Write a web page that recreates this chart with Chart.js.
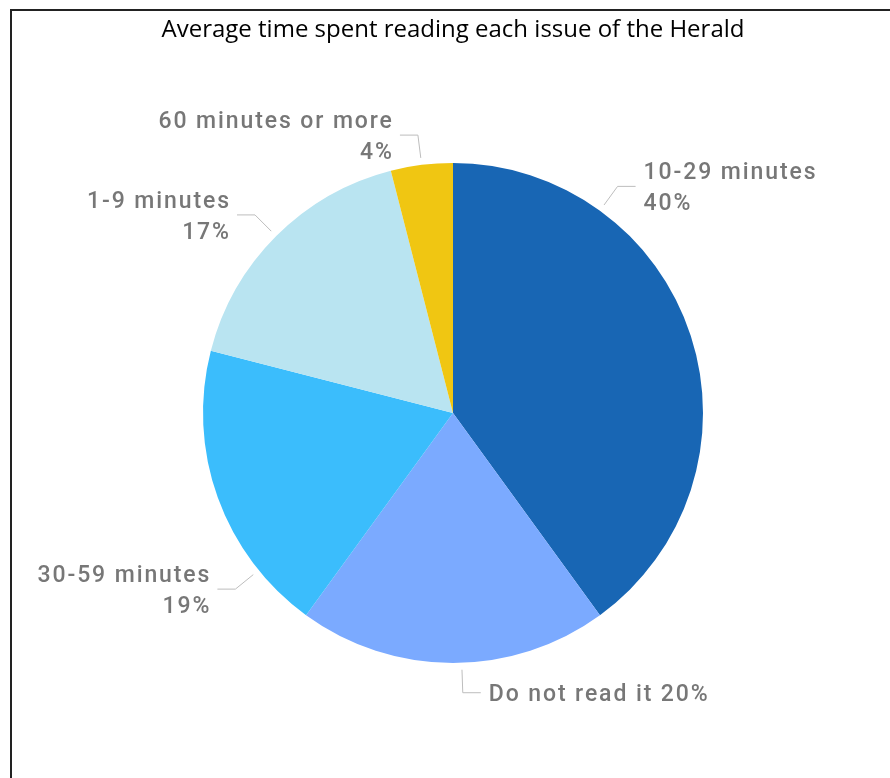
<!DOCTYPE html>
<html>
<head>
<meta charset="utf-8">
<script src="https://cdn.jsdelivr.net/npm/chart.js@4.4.1/dist/chart.umd.min.js"></script>
<style>
    html, body { margin: 0; padding: 0; background: #fff; overflow: hidden; }
    #frame {
        position: absolute; left: 10px; top: 9px;
        width: 882px; height: 767px;
        border-left: 2px solid #222; border-top: 2px solid #222;
    }
    #chart { display: block; }
</style>
</head>
<body>
<div id="frame"><canvas id="chart" width="882" height="767"></canvas></div>
<script>
// ──────────────────────────────────────────────
// Данные
// ──────────────────────────────────────────────
const categories = ['10-29 minutes', 'Do not read it', '30-59 minutes', '1-9 minutes', '60 minutes or more'];
const shares     = [40, 20, 19, 17, 4];
const colors     = ['#1866b4', '#7baaff', '#3bbdfc', '#b9e4f1', '#f0c612'];

// ──────────────────────────────────────────────
// Подписи с выносками
// ──────────────────────────────────────────────
const pieLabels = {
    id: 'pieLabels',
    afterDatasetsDraw(chart, args, opts) {
        const ctx  = chart.ctx;
        const meta = chart.getDatasetMeta(0);
        const vals = chart.data.datasets[0].data;

        ctx.save();
        ctx.font = opts.font;
        ctx.letterSpacing = opts.letterSpacing;
        ctx.fillStyle = opts.color;
        ctx.strokeStyle = opts.lineColor;
        ctx.lineWidth = 1;
        ctx.textBaseline = 'middle';

        meta.data.forEach((arc, i) => {
            const p = arc.getProps(['x', 'y', 'outerRadius', 'startAngle', 'endAngle'], true);
            const deg = opts.angles[i];
            const a = deg != null ? (deg - 90) * Math.PI / 180 : (p.startAngle + p.endAngle) / 2;
            const cos = Math.cos(a), sin = Math.sin(a);

            const x0 = p.x + cos * (p.outerRadius + 7),  y0 = p.y + sin * (p.outerRadius + 7);
            const x1 = p.x + cos * (p.outerRadius + 30), y1 = p.y + sin * (p.outerRadius + 30);
            const dir = cos >= 0 ? 1 : -1;
            const x2 = x1 + dir * 18;

            ctx.beginPath();
            ctx.moveTo(x0, y0);
            ctx.lineTo(x1, y1);
            ctx.lineTo(x2, y1);
            ctx.stroke();

            // при выравнивании вправо последний межбуквенный интервал тоже уходит в ширину
            const tx = x2 + dir * 8 + (dir < 0 ? parseFloat(opts.letterSpacing) : 0);
            const ty = y1 + 2.5;
            ctx.textAlign = dir > 0 ? 'left' : 'right';
            const pct = vals[i] + '%';
            if (opts.inline.includes(i)) {
                ctx.fillText(chart.data.labels[i] + ' ' + pct, tx, ty);
            } else {
                ctx.fillText(chart.data.labels[i], tx, ty - 15.5);
                ctx.fillText(pct, tx, ty + 15.5);
            }
        });
        ctx.restore();
    }
};

// ──────────────────────────────────────────────
// Круговая диаграмма
// ──────────────────────────────────────────────
new Chart(document.getElementById('chart'), {
    type: 'pie',
    data: {
        labels: categories,
        datasets: [{
            data: shares,
            backgroundColor: colors,
            borderWidth: 0,
            radius: 250
        }]
    },
    options: {
        responsive: false,
        animation: false,
        layout: { padding: { top: 0, bottom: 15 } },
        plugins: {
            legend: { display: false },
            tooltip: { enabled: false },
            title: {
                display: true,
                text: 'Average time spent reading each issue of the Herald',
                color: '#000',
                font: { family: '"Open Sans", sans-serif', size: 24, weight: 'normal' },
                padding: { top: 5, bottom: 18 }
            },
            pieLabels: {
                font: '500 23px Roboto, sans-serif',
                letterSpacing: '1.9px',
                color: '#777',
                lineColor: '#bdbdbd',
                angles: [36, 178, 231, null, null],
                inline: [1]
            }
        }
    },
    plugins: [pieLabels]
});
</script>
</body>
</html>
